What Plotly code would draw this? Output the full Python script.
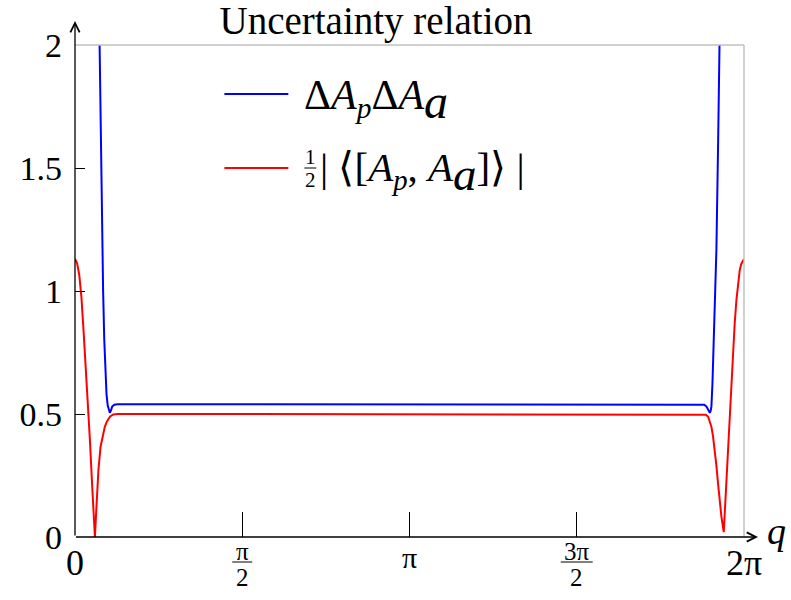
import numpy as np
import plotly.graph_objects as go

# values
q_blue = [0.0, 0.10, 0.20, 0.227, 0.245, 0.264, 0.275, 0.286, 0.296, 0.307,
          0.317, 0.327, 0.338, 0.349, 0.37, 0.40, 0.50, 1.0, 2.0, 3.14,
          4.0, 5.0, 5.70, 5.88, 5.91, 5.931, 5.945, 5.952, 5.962, 5.970,
          5.977, 5.987, 5.999, 6.012, 6.024, 6.040, 6.055, 6.08, 6.18, 6.283]
blue_vals = [9.0, 6.0, 3.0, 2.0, 1.5, 1.0, 0.8, 0.65, 0.58, 0.535,
             0.512, 0.505, 0.515, 0.53, 0.538, 0.54, 0.54, 0.54, 0.54, 0.54,
             0.54, 0.54, 0.54, 0.54, 0.538, 0.53, 0.518, 0.508, 0.505, 0.512,
             0.53, 0.624, 0.827, 1.03, 1.167, 1.6, 2.0, 3.0, 6.0, 9.0]

q_red = [0.0, 0.02, 0.04, 0.06, 0.08, 0.10, 0.12, 0.14, 0.16, 0.18,
         0.187, 0.20, 0.22, 0.24, 0.26, 0.28, 0.30, 0.33, 0.36, 0.40,
         1.0, 2.0, 3.14, 4.0, 5.0, 5.899, 5.925, 5.946, 5.962, 5.977,
         5.992, 6.008, 6.024, 6.039, 6.055, 6.071, 6.093, 6.105, 6.118, 6.133,
         6.149, 6.165, 6.18, 6.196, 6.212, 6.228, 6.243, 6.258, 6.274, 6.283]
red_vals = [1.13, 1.113, 1.065, 0.977, 0.841, 0.706, 0.557, 0.394, 0.219, 0.04,
            0.0, 0.11, 0.272, 0.367, 0.415, 0.448, 0.47, 0.49, 0.498, 0.5,
            0.5, 0.5, 0.5, 0.5, 0.5, 0.5, 0.497, 0.489, 0.47, 0.448,
            0.41, 0.354, 0.29, 0.219, 0.15, 0.083, 0.02, 0.12, 0.219, 0.35,
            0.489, 0.63, 0.76, 0.87, 0.963, 1.035, 1.085, 1.11, 1.126, 1.13]

y_ticks = [0, 0.5, 1, 1.5, 2]
y_tick_text = ["0", "0.5", "1", "1.5", "2"]
x_ticks = [0, np.pi / 2, np.pi, 3 * np.pi / 2, 2 * np.pi]
x_tick_text = ["0", "π/2", "π", "3π/2", "2π"]

FONT = "Liberation Serif"

# plot box in pixels (791x600 page)
L, R, T, B = 74.5, 744.0, 45.0, 537.0


def px(xp):
    return (xp - L) / (R - L)


def py(yp):
    return (B - yp) / (B - T)


def label(x, y, text, size, xref="paper", xanchor="center"):
    return dict(xref=xref, yref="paper", x=x, y=y, text=text, showarrow=False,
                xanchor=xanchor, yanchor="middle",
                font=dict(family=FONT, size=size, color="black"))


fig = go.Figure()
fig.add_trace(go.Scatter(x=q_blue, y=blue_vals, mode="lines",
                         line=dict(color="#0000ff", width=2), showlegend=False))
fig.add_trace(go.Scatter(x=q_red, y=red_vals, mode="lines",
                         line=dict(color="#ff0000", width=2), showlegend=False))

shapes = []
annotations = []

# grey frame on top and right
shapes.append(dict(type="line", xref="paper", yref="paper", x0=0, x1=1, y0=1, y1=1,
                   line=dict(color="#c0c0c0", width=1.5)))
shapes.append(dict(type="line", xref="paper", yref="paper", x0=1, x1=1, y0=0, y1=1,
                   line=dict(color="#c0c0c0", width=1.5)))

# axes with arrows
annotations.append(dict(xref="paper", yref="paper", x=px(758), y=0, ax=-(758 - L), ay=0,
                        text="", showarrow=True, arrowhead=5, arrowsize=1.4,
                        arrowwidth=1.3, arrowcolor="black", standoff=0))
annotations.append(dict(xref="paper", yref="paper", x=0, y=py(21), ax=0, ay=(B - 21),
                        text="", showarrow=True, arrowhead=5, arrowsize=1.4,
                        arrowwidth=1.3, arrowcolor="black", standoff=0))
annotations.append(label(px(777), py(531), "<i>q</i>", 38))

# x tick labels (fractions stacked)
for val, lab in zip(x_ticks, x_tick_text):
    if "/" in lab:
        num, den = lab.split("/")
        annotations.append(label(val, py(551), num, 25, xref="x"))
        annotations.append(label(val, py(577), den, 25, xref="x"))
        half = (len(num) * 6 + 4) / 106.6
        shapes.append(dict(type="line", xref="x", yref="paper", x0=val - half, x1=val + half,
                           y0=py(562), y1=py(562), line=dict(color="black", width=1)))
    else:
        size = 30 if lab == "π" else 36
        yy = 557 if lab == "π" else 563
        annotations.append(label(val, py(yy), lab, size, xref="x"))

# legend drawn by hand
shapes.append(dict(type="line", xref="paper", yref="paper", x0=px(224), x1=px(288),
                   y0=py(94), y1=py(94), line=dict(color="#0000ff", width=2)))
shapes.append(dict(type="line", xref="paper", yref="paper", x0=px(224), x1=px(288),
                   y0=py(168), y1=py(168), line=dict(color="#ff0000", width=2)))
annotations.append(label(px(302), py(100),
                         "Δ<i>A</i><sub><i>p</i></sub>Δ<i>A</i><sub><span style='font-size:48px'><i>a</i></span></sub>",
                         42, xanchor="left"))
annotations.append(label(px(310), py(157), "1", 21))
annotations.append(label(px(310), py(180), "2", 21))
shapes.append(dict(type="line", xref="paper", yref="paper", x0=px(304), x1=px(316),
                   y0=py(168), y1=py(168), line=dict(color="black", width=1)))
annotations.append(label(px(318), py(172),
                         "| ⟨[<i>A</i><sub><i>p</i></sub>, <i>A</i><sub><span style='font-size:47px'><i>a</i></span></sub>]⟩ |",
                         41, xanchor="left"))

fig.update_layout(
    width=791, height=600,
    margin=dict(l=L, r=791 - R, t=T, b=600 - B),
    plot_bgcolor="white", paper_bgcolor="white",
    title=dict(text="Uncertainty relation", x=376 / 791, xanchor="center",
               y=1 - 20 / 600, yanchor="middle",
               font=dict(family=FONT, size=39, color="black")),
    xaxis=dict(range=[0, 2 * np.pi], showgrid=False, zeroline=False, showline=False,
               tickvals=x_ticks, showticklabels=False, ticks="inside", ticklen=25,
               tickcolor="black", tickwidth=1.3),
    yaxis=dict(range=[0, 2], showgrid=False, zeroline=False, showline=False,
               tickvals=y_ticks, ticktext=y_tick_text, ticks="inside", ticklen=10,
               tickcolor="black", tickwidth=1.3, ticklabelstandoff=12,
               tickfont=dict(family=FONT, size=34, color="black")),
    shapes=shapes,
    annotations=annotations,
)

# drop the browser's default page margin so the figure sits at the top-left corner
fig.write_html("out.html", config={"displayModeBar": False},
               post_script="document.body.style.margin='0px';")
